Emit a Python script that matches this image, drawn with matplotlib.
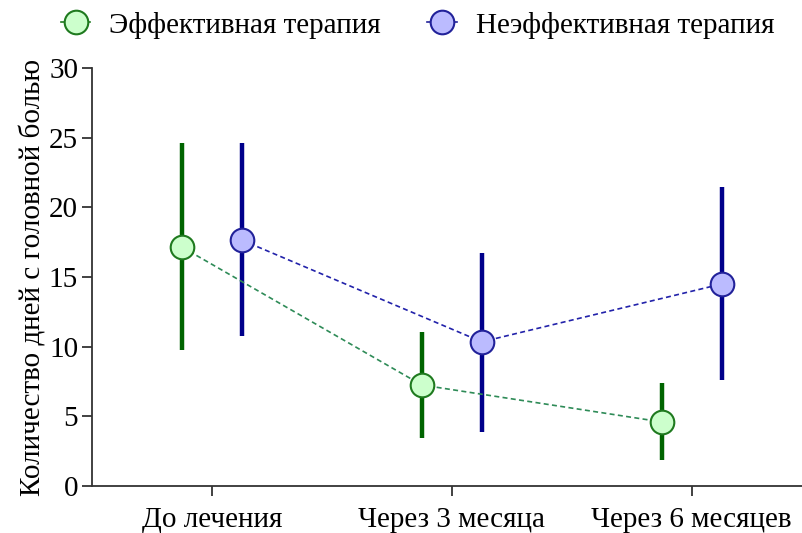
import numpy as np
import matplotlib.pyplot as plt

plt.rcParams["font.family"] = "Liberation Serif"
plt.rc('xtick', labelsize=21)
plt.rc('ytick', labelsize=21)

categories = ['До лечения', 'Через 3 месяца', 'Через 6 месяцев']
eff_mean = [17.15, 7.25, 4.6]
eff_low = [9.75, 3.45, 1.85]
eff_high = [24.6, 11.05, 7.4]
ineff_mean = [17.65, 10.35, 14.5]
ineff_low = [10.8, 3.9, 7.6]
ineff_high = [24.6, 16.75, 21.45]

x = np.arange(len(categories))
shift = 0.125

fig = plt.figure(figsize=(8.03, 5.33), dpi=100)
ax = fig.add_axes([0.1146, 0.0882, 0.885, 0.784])

def draw(xs, mean, low, high, bar_col, line_col, face, edge, label):
    ax.vlines(xs, low, high, color=bar_col, lw=3.2, zorder=2)
    ax.plot(xs, mean, ls=(0, (3, 2)), color=line_col, lw=1.2, zorder=3)
    ax.plot(xs, mean, ls='none', marker='o', ms=17, mfc=face, mec=edge, mew=1.5, zorder=4)
    # legend proxy: marker with short line stub
    return ax.plot([], [], ls='-', lw=1.2, color=edge, marker='o', ms=17,
                   mfc=face, mec=edge, mew=1.5, label=label)[0]

h1 = draw(x - shift, eff_mean, eff_low, eff_high, '#006400', '#2e8b57',
          '#ccffcc', '#1f7a1f', 'Эффективная терапия')
h2 = draw(x + shift, ineff_mean, ineff_low, ineff_high, '#00008b', '#2222aa',
          '#bbbbff', '#22229a', 'Неэффективная терапия')

ax.set_xlim(-0.5, 2.463)
ax.set_ylim(0, 30)
ax.set_yticks(range(0, 31, 5))
ax.set_xticks(x)
ax.set_xticklabels(categories)
ax.set_ylabel('Количество дней с головной болью', fontsize=21, labelpad=2)

for s in ['top', 'right']:
    ax.spines[s].set_visible(False)
for s in ['left', 'bottom']:
    ax.spines[s].set_color('#333333')
    ax.spines[s].set_linewidth(1.3)
ax.tick_params(axis='both', direction='out', length=7, width=1.3, color='#333333', pad=3)
ax.tick_params(axis='x', pad=8)

fig.legend(handles=[h1, h2], loc='center', bbox_to_anchor=(0.52, 0.953), ncol=2,
           frameon=False, fontsize=21, handlelength=1.0, handletextpad=0.65,
           columnspacing=1.6)

plt.savefig('out.png', dpi=100)
